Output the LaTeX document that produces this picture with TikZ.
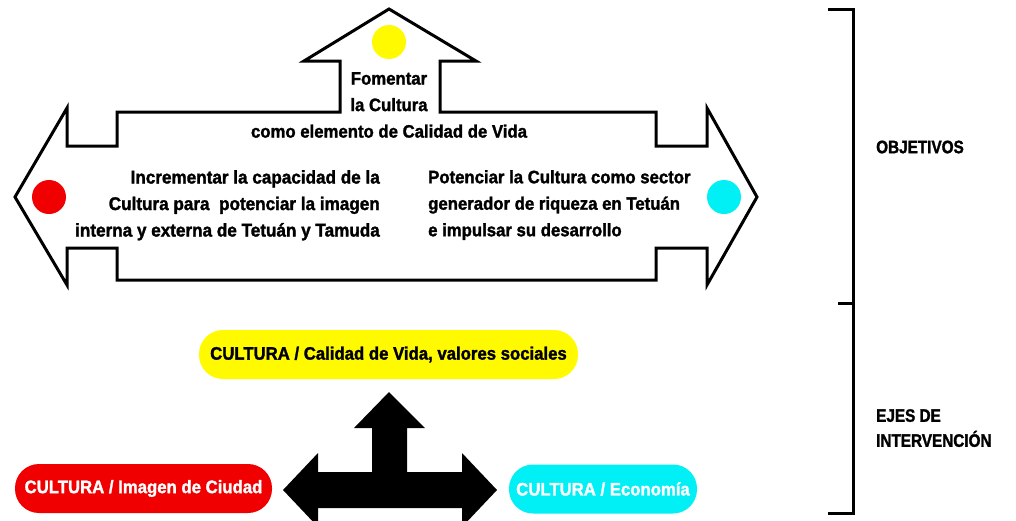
\documentclass[tikz,border=0pt]{standalone}
\usepackage{fontspec}
\setmainfont{Liberation Sans}[FakeStretch=0.93, BoldFeatures={FakeBold=1.6}]
\newfontfamily\capsfont{Liberation Sans}[FakeStretch=0.85, BoldFeatures={FakeBold=1.6}]
\definecolor{pillyellow}{RGB}{255,250,0}
\definecolor{pillred}{RGB}{240,0,0}
\definecolor{pillcyan}{RGB}{0,240,245}
\tikzset{
  outline/.style={draw=black, line width=3pt, line join=miter, fill=white},
  dot/.style={circle, minimum size=34pt, inner sep=0pt},
  txt/.style={font=\fontsize{18}{26.5}\selectfont\bfseries, inner sep=0pt},
  capstxt/.style={font=\capsfont\fontsize{18}{25}\selectfont\bfseries, inner sep=0pt, align=left},
  pill/.style={rounded corners=24pt, minimum height=49pt, inner sep=0pt,
               font=\fontsize{18}{22}\selectfont\bfseries},
  bracket/.style={line width=3pt},
  bigarrow/.style={fill=black},
}
\begin{document}
\begin{tikzpicture}[x=1pt,y=-1pt]
\useasboundingbox (0,0) rectangle (1016,520);
\fill[white] (0,0) rectangle (1016,520);
% main outlined three-way arrow
\draw[outline] (389,9) -- (476,61) -- (440,61) -- (440,112) -- (656,112)
  -- (656,146) -- (707,146) -- (707,108) -- (757,197) -- (707,285) -- (707,248)
  -- (656,248) -- (656,280) -- (117,280) -- (117,248) -- (67,248) -- (67,285)
  -- (15,197) -- (67,108) -- (67,146) -- (117,146) -- (117,112) -- (340,112)
  -- (340,61) -- (304,61) -- cycle;
% dots
\node[dot, fill=pillyellow] (dy) at (389,42) {};
\node[dot, fill=pillred] (dr) at (49,197) {};
\node[dot, fill=pillcyan] (dc) at (724,197) {};
% texts
\node[txt, align=center, anchor=north] (tfom) at (389,72)
  {Fomentar\\la Cultura\\como elemento de Calidad de Vida};
\node[txt, font=\fontsize{18.4}{26.5}\selectfont\bfseries, align=right, anchor=north east] (tinc) at (380,170)
  {Incrementar la capacidad de la\\Cultura para\ \ potenciar la imagen\\interna y externa de Tetuán y Tamuda};
\node[txt, align=left, anchor=north west] (tpot) at (428,170)
  {Potenciar la Cultura como sector\\generador de riqueza en Tetuán\\e impulsar su desarrollo};
% bracket
\draw[bracket] (828,9) -- (853,9) -- (853,513) -- (828,513);
\draw[bracket] (838,303) -- (853,303);
\node[capstxt, anchor=west] (obj) at (876,147) {OBJETIVOS};
\node[capstxt, anchor=north west] (ejes) at (876,409) {EJES DE\\INTERVENCIÓN};
% pills
\node[pill, fill=pillyellow, text=black, minimum width=379pt] (py) at (388.5,354.5)
  {CULTURA / Calidad de Vida, valores sociales};
\node[pill, fill=pillred, text=white, minimum width=257pt] (pr) at (143.5,488.5)
  {CULTURA / Imagen de Ciudad};
\node[pill, fill=pillcyan, text=white, minimum width=188pt] (pc) at (603,489)
  {CULTURA / Economía};
% black arrow
\begin{scope}
\clip (0,0) rectangle (1016,520);
\fill[bigarrow] (389,392) -- (425,428) -- (407,428) -- (407,472) -- (462,472)
  -- (462,453) -- (497,490) -- (462,527) -- (462,508) -- (318,508) -- (318,527)
  -- (283,490) -- (318,453) -- (318,472) -- (372,472) -- (372,428) -- (354,428) -- cycle;
\end{scope}
\end{tikzpicture}
\end{document}
